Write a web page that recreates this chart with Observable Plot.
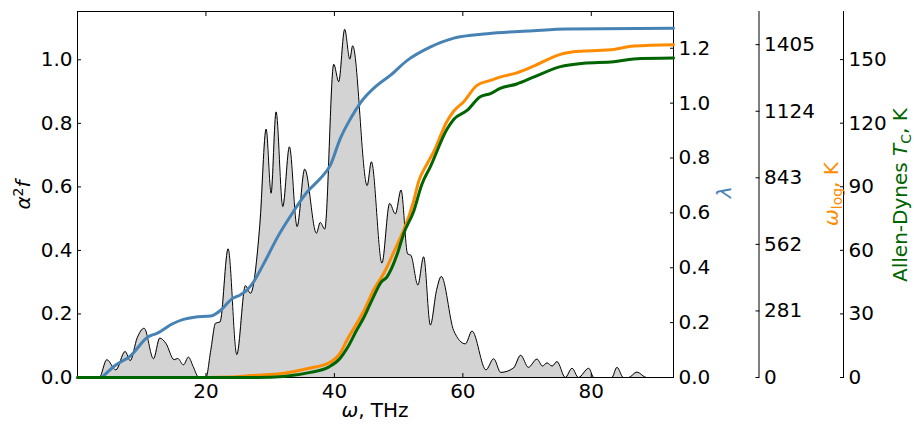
<!DOCTYPE html>
<html>
<head>
<meta charset="utf-8">
<script src="https://cdn.jsdelivr.net/npm/d3@7"></script>
<script src="https://cdn.jsdelivr.net/npm/@observablehq/plot@0.6"></script>
<style>
  html, body { margin: 0; padding: 0; background: white; }
  #chart { position: relative; width: 914px; height: 427px; }
  #chart svg { position: absolute; left: 0; top: 0; overflow: visible; }
</style>
</head>
<body>
<div id="chart"></div>
<script>
// ---- Data ----
const xTicks = [20, 40, 60, 80];
const a2fTicks = [0, 0.2, 0.4, 0.6, 0.8, 1.0];
const lamTicks = [0, 0.2, 0.4, 0.6, 0.8, 1.0, 1.2];
const wlogTicks = [0, 281, 562, 843, 1124, 1405];
const tcTicks = [0, 30, 60, 90, 120, 150];

// Eliashberg function alpha^2 F(omega)
const a2fOmega = [0, 3.4, 4.56, 5.97, 7.42, 8.2, 9.3, 10.38, 11.83, 12.81, 13.75, 15.05, 15.6, 16.5, 17.28, 18.0, 18.9, 20.0, 20.75, 21.5, 22.2, 23.45, 24.8, 26.15, 26.93, 28.4, 29.37, 30.14, 30.92, 31.96, 33.0, 34.19, 35.38, 37.2, 37.8, 38.5, 39.9, 40.67, 41.6, 42.4, 42.85, 45.1, 45.76, 47.4, 48.6, 49.5, 50.38, 51.4, 51.9, 53.0, 53.9, 54.94, 55.9, 56.65, 58.57, 60.4, 61.43, 63.6, 64.8, 65.9, 67.9, 69.0, 70.2, 71.55, 72.4, 73.1, 73.9, 74.66, 75.95, 77.0, 78.0, 79.6, 80.4, 83.2, 84.0, 85.0, 85.8, 87.1, 88.6, 92.8];
const a2fValue = [0, 0, 0.056, 0.024, 0.082, 0.053, 0.125, 0.155, 0.059, 0.124, 0.108, 0.056, 0.06, 0.04, 0.064, 0.035, 0, 0, 0.085, 0.171, 0.175, 0.405, 0.072, 0.289, 0.265, 0.483, 0.782, 0.58, 0.836, 0.538, 0.726, 0.475, 0.656, 0.454, 0.488, 0.467, 0.986, 0.931, 1.096, 1.002, 1.044, 0.604, 0.679, 0.36, 0.548, 0.515, 0.59, 0.389, 0.385, 0.291, 0.38, 0.165, 0.274, 0.318, 0.148, 0.106, 0.146, 0.024, 0.059, 0.016, 0.03, 0.07, 0.032, 0.058, 0.036, 0.046, 0.036, 0.05, 0, 0.029, 0, 0.029, 0, 0, 0.032, 0, 0, 0.017, 0, 0];

// cumulative lambda(omega)
const lamOmega = [3.8, 5.7, 8.3, 10.9, 12.45, 14.8, 16.5, 18.2, 20.75, 22.3, 23.9, 25.4, 26.46, 27.4, 29.0, 31.3, 33.4, 35.75, 37.8, 39.35, 40.9, 42.5, 44.05, 46.6, 48.7, 51.3, 54.9, 58.6, 63.8, 71.0, 76.2, 92.8];
const lamValue = [0, 0.041, 0.08, 0.147, 0.162, 0.196, 0.212, 0.22, 0.224, 0.245, 0.284, 0.302, 0.32, 0.348, 0.415, 0.518, 0.597, 0.676, 0.725, 0.773, 0.87, 0.943, 1.001, 1.064, 1.101, 1.155, 1.204, 1.237, 1.253, 1.264, 1.27, 1.273];

// omega_log (K)
const wlogOmega = [0, 20, 24, 26.9, 32.1, 36.25, 39.1, 40.9, 42.0, 43.5, 44.6, 46.1, 47.7, 49.76, 50.8, 52.35, 53.1, 54.4, 55.45, 57.5, 58.6, 60.1, 62.2, 64.3, 65.8, 68.4, 71.0, 75.2, 76.5, 78.8, 83.5, 86.6, 92.8];
const wlogValue = [0, 0, 2, 8, 18, 40, 61, 103, 160, 229, 282, 370, 440, 560, 622, 746, 826, 900, 952, 1080, 1125, 1163, 1233, 1254, 1268, 1286, 1314, 1364, 1372, 1378, 1385, 1399, 1405];

// Allen-Dynes Tc (K)
const tcOmega = [0, 28, 32.1, 36.25, 39.1, 40.9, 42.0, 43.5, 44.6, 46.1, 47.2, 48.2, 49.76, 50.8, 52.35, 53.6, 54.95, 57.5, 58.6, 60.65, 62.7, 64.3, 65.8, 68.4, 71.0, 75.2, 78.8, 83.5, 86.6, 92.8];
const tcValue = [0, 0, 0.5, 2.4, 4.9, 9.1, 13.9, 22.5, 28.4, 38.2, 44.7, 47.5, 58, 68, 78.5, 91, 99.5, 117, 121.9, 126, 132.5, 134, 136.4, 138.5, 141.7, 146.7, 148.3, 149.0, 150.3, 150.7];

// ---- Build tables ----
const zip = (xs, ys) => xs.map((w, i) => ({w, v: ys[i]}));
const a2f = zip(a2fOmega, a2fValue);
const lam = zip(lamOmega, lamValue);
const wlog = zip(wlogOmega, wlogValue);
const tc = zip(tcOmega, tcValue);

const xDomain = [0, 92.8];
const common = {
  width: 914, height: 427,
  marginLeft: 77, marginRight: 241, marginTop: 11, marginBottom: 50,
  style: {background: "transparent", fontFamily: "DejaVu Sans", fontSize: "20px", color: "black", overflow: "visible"}
};
const f1 = d3.format(".1f");

const main = Plot.plot({
  ...common,
  x: {domain: xDomain},
  y: {domain: [0, 1.152]},
  marks: [
    Plot.areaY(a2f, {x: "w", y: "v", fill: "#d3d3d3", curve: "monotone-x"}),
    Plot.lineY(a2f, {x: "w", y: "v", stroke: "black", strokeWidth: 1, curve: "monotone-x"}),
    Plot.axisY({anchor: "left", ticks: a2fTicks, tickSize: -4, tickPadding: 9, tickFormat: f1, label: null}),
    Plot.axisX({anchor: "bottom", ticks: xTicks, tickSize: -4, tickPadding: 10, label: null}),
    Plot.axisX({anchor: "top", ticks: xTicks, tickSize: -4, tickFormat: () => "", label: null}),
    Plot.frame({stroke: "black"})
  ]
});

const lamPlot = Plot.plot({
  ...common,
  x: {domain: xDomain, axis: null},
  y: {domain: [0, 1.334]},
  marks: [
    Plot.lineY(lam, {x: "w", y: "v", stroke: "steelblue", strokeWidth: 3, curve: "monotone-x"}),
    Plot.axisY({anchor: "right", ticks: lamTicks, tickSize: -4, tickPadding: 9, tickFormat: f1, label: null})
  ]
});

const wlogPlot = Plot.plot({
  ...common,
  x: {domain: xDomain, axis: null},
  y: {domain: [0, 1545]},
  marks: [
    Plot.lineY(wlog, {x: "w", y: "v", stroke: "darkorange", strokeWidth: 3, curve: "monotone-x"}),
    Plot.ruleX([xDomain[1]], {dx: 85.5, stroke: "black"}),
    Plot.axisY({anchor: "right", dx: 85.5, ticks: wlogTicks, tickSize: -4, tickPadding: 9, tickFormat: d3.format("d"), label: null})
  ]
});

const tcPlot = Plot.plot({
  ...common,
  x: {domain: xDomain, axis: null},
  y: {domain: [0, 172.7]},
  marks: [
    Plot.lineY(tc, {x: "w", y: "v", stroke: "darkgreen", strokeWidth: 3, curve: "monotone-x"}),
    Plot.ruleX([xDomain[1]], {dx: 170, stroke: "black"}),
    Plot.axisY({anchor: "right", dx: 170, ticks: tcTicks, tickSize: -4, tickPadding: 9, tickFormat: d3.format("d"), label: null})
  ]
});

const chart = document.getElementById("chart");
[main, lamPlot, wlogPlot, tcPlot].forEach(s => chart.appendChild(s));

// ---- Axis titles (real text) ----
const svg = d3.select(tcPlot);
const g = svg.append("g").attr("font-family", "DejaVu Sans").attr("font-size", 20);

const xl = g.append("text").attr("x", 375).attr("y", 417).attr("text-anchor", "middle").attr("fill", "black");
xl.append("tspan").attr("font-style", "italic").text("ω");
xl.append("tspan").attr("font-style", "normal").text(", THz");

const yl = g.append("text").attr("transform", "translate(30,195) rotate(-90)").attr("text-anchor", "middle").attr("fill", "black");
yl.append("tspan").attr("font-style", "italic").text("α");
yl.append("tspan").attr("font-style", "normal").attr("baseline-shift", "7").attr("font-size", 14).text("2");
yl.append("tspan").attr("font-style", "italic").attr("baseline-shift", "0").text("f");

g.append("text").attr("transform", "translate(731,192) rotate(-90)").attr("text-anchor", "middle")
  .attr("fill", "steelblue").attr("font-style", "italic").text("λ");

const wl = g.append("text").attr("transform", "translate(838,194) rotate(-90)").attr("text-anchor", "middle").attr("fill", "darkorange");
wl.append("tspan").attr("font-style", "italic").text("ω");
wl.append("tspan").attr("font-style", "normal").attr("baseline-shift", "-4").attr("font-size", 14).text("log");
wl.append("tspan").attr("font-style", "normal").attr("baseline-shift", "0").text(", K");

const tl = g.append("text").attr("transform", "translate(907,195) rotate(-90)").attr("text-anchor", "middle").attr("fill", "darkgreen");
tl.append("tspan").attr("font-style", "normal").text("Allen-Dynes ");
tl.append("tspan").attr("font-style", "italic").text("T");
tl.append("tspan").attr("font-style", "normal").attr("baseline-shift", "-4").attr("font-size", 14).text("C");
tl.append("tspan").attr("font-style", "normal").attr("baseline-shift", "0").text(", K");
</script>
</body>
</html>
